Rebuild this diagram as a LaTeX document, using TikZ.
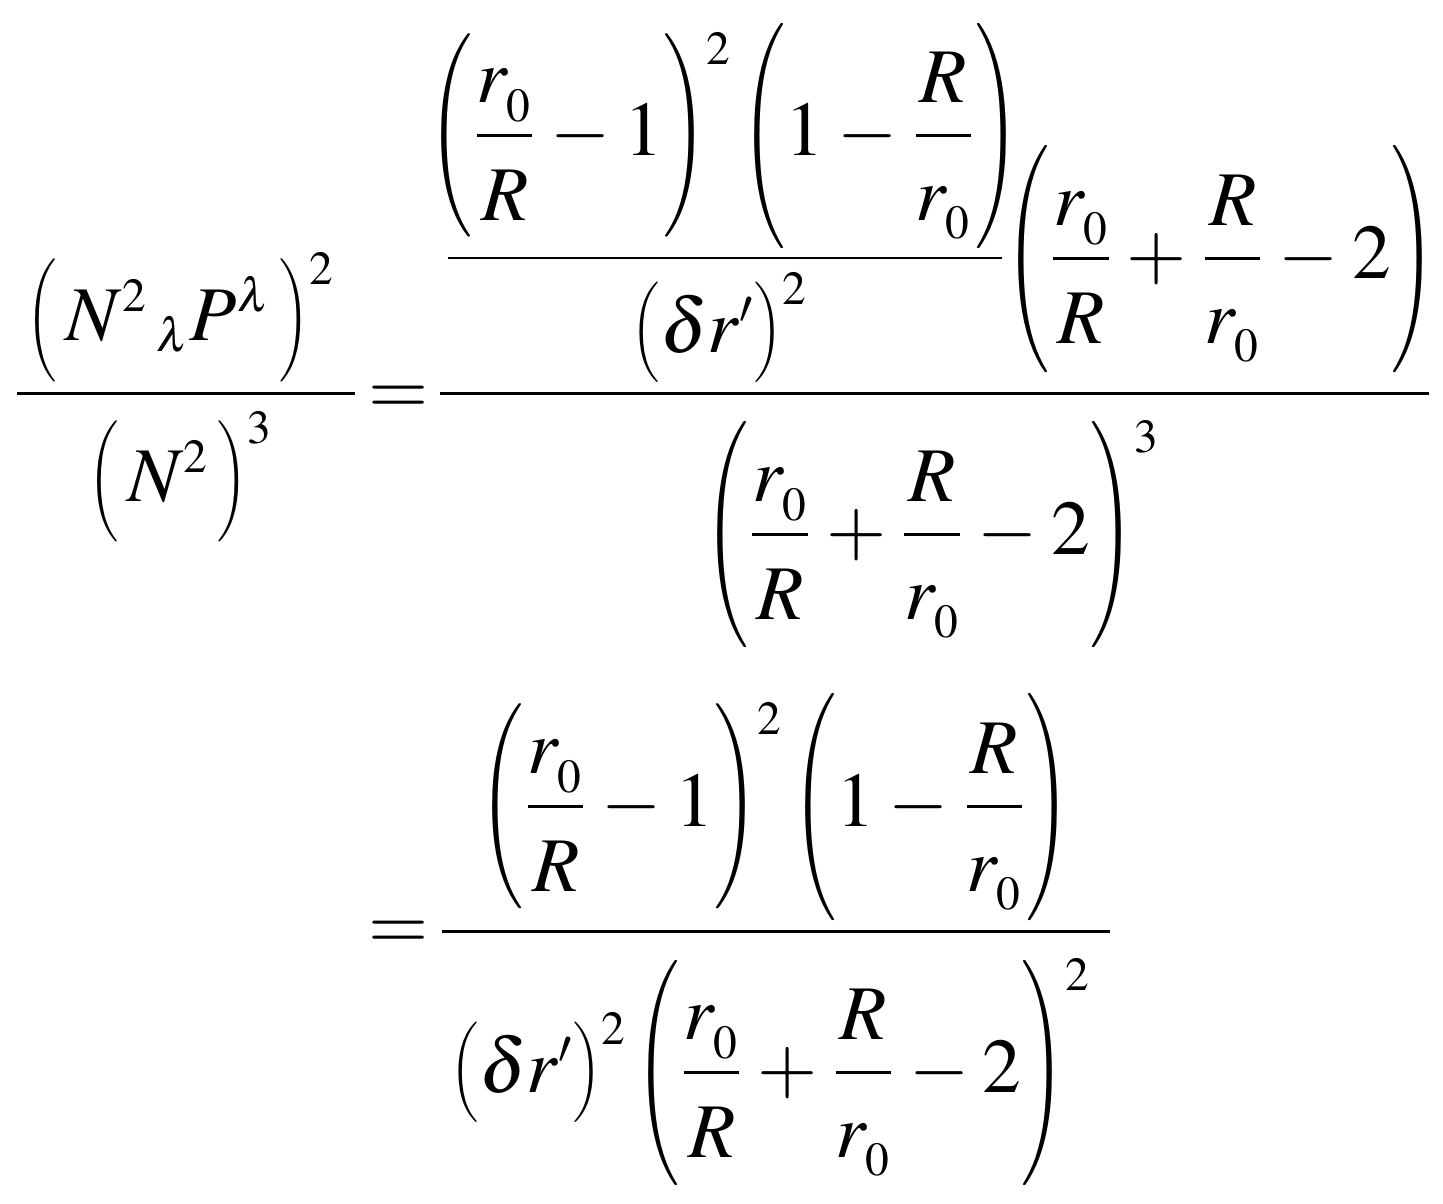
\documentclass[tikz,border=0pt]{standalone}
\usepackage{amsmath}
\usepackage{mathptmx}
\usepackage{graphicx}
\DeclareMathSizes{22}{22}{13.5}{9.5}
% tall thin parentheses: #1 = total height, #2 = width
\newcommand{\pl}[2]{\mathopen{\vcenter{\hbox{\resizebox*{#2}{#1}{$\Biggl($}}}}}
\newcommand{\pr}[2]{\mathclose{\vcenter{\hbox{\resizebox*{#2}{#1}{$\Biggr)$}}}}}
% lowered exponent
\newcommand{\ex}[2]{^{\lower#1\hbox{$\scriptstyle #2$}}}
% display fraction with the denominator set lower
\newcommand{\fr}[2]{\dfrac{#1}{\rule{0pt}{21pt}#2}}
\newcommand{\rz}{r_{\lower2pt\hbox{$\scriptstyle 0$}}}
\newcommand{\eqfont}{\fontsize{22}{26}\selectfont\medmuskip=3.2mu\relax}
\begin{document}
\begin{tikzpicture}[x=0.01cm,y=-0.01cm,
  every node/.style={inner sep=0pt, anchor=base, font=\eqfont},
  fracbar/.style={line width=0.85pt}]
\useasboundingbox[fill=white] (0,0) rectangle (1443,1203);
% left-hand side
\node (ln) at (181,340) {$\pl{35pt}{8.6pt}\mkern2mu N^{2}\,{}_{\lambda}P^{\lambda}\,\pr{35pt}{8.6pt}\ex{2pt}{2}$};
\coordinate (lb1) at (17,393); \coordinate (lb2) at (355,393);
\draw[fracbar] (lb1) -- (lb2);
\node (ld) at (181,501) {$\pl{34.4pt}{8.6pt}\,N^{2}\,\pr{34.4pt}{8.6pt}\ex{1pt}{3}$};
\node (eq1) at (399,414) {$=$};
% right-hand side, first line
\node (in) at (724,155) {$\pl{57.8pt}{12.5pt}\fr{\rz}{R}-1\pr{57.8pt}{12.5pt}\ex{3.5pt}{2}\,\pl{64pt}{12.5pt}1-\fr{R}{\rz}\pr{64pt}{12.5pt}$};
\coordinate (ib1) at (448,258); \coordinate (ib2) at (1002,258);
\draw[fracbar] (ib1) -- (ib2);
\node (id) at (720,352) {$\pl{28.5pt}{8pt}\delta r'\pr{28.5pt}{8pt}\ex{1pt}{2}$};
\node (bp) at (1220,278) {$\pl{64.6pt}{12.5pt}\fr{\rz}{R}+\fr{R}{\rz}-2\pr{64.6pt}{12.5pt}$};
\coordinate (rb1) at (440,393); \coordinate (rb2) at (1429,393);
\draw[fracbar] (rb1) -- (rb2);
\node (dn) at (932,554) {$\pl{64.3pt}{12.5pt}\fr{\rz}{R}+\fr{R}{\rz}-2\pr{64.3pt}{12.5pt}\ex{3.5pt}{3}$};
% second line
\node (eq2) at (399,949) {$=$};
\node (n2) at (775,826) {$\pl{58.3pt}{12.5pt}\fr{\rz}{R}-1\pr{58.3pt}{12.5pt}\ex{3.5pt}{2}\,\pl{64.6pt}{12.5pt}1-\fr{R}{\rz}\pr{64.6pt}{12.5pt}$};
\coordinate (sb1) at (442,931); \coordinate (sb2) at (1110,931);
\draw[fracbar] (sb1) -- (sb2);
\node (d2) at (771,1092) {$\pl{28.5pt}{8pt}\delta r'\pr{28.5pt}{8pt}\ex{1pt}{2}\,\pl{64pt}{12.5pt}\fr{\rz}{R}+\fr{R}{\rz}-2\pr{64pt}{12.5pt}\ex{3.5pt}{2}$};
\end{tikzpicture}
\end{document}
